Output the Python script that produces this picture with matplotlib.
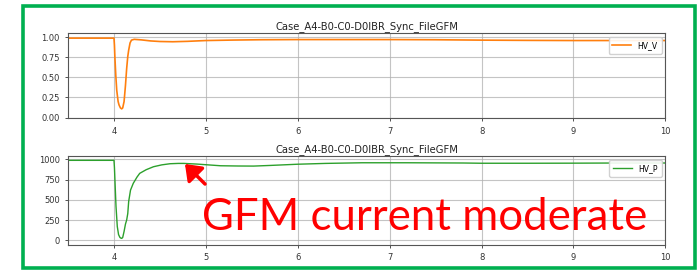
import matplotlib
matplotlib.use("Agg")
import matplotlib.pyplot as plt
from matplotlib.patches import Rectangle, FancyArrowPatch

title = "Case_A4-B0-C0-D0IBR_Sync_FileGFM"

t_v = [3.5, 4.0, 4.005, 4.01, 4.02, 4.03, 4.045, 4.055, 4.07, 4.084, 4.095,
       4.11, 4.125, 4.138, 4.15, 4.16, 4.175, 4.19, 4.22, 4.3, 4.4, 4.5,
       4.64, 4.8, 5.0, 5.3, 5.6, 6.0, 7.0, 7.5, 8.0, 8.5, 9.0, 9.5, 10.0]
hv_v = [0.99, 0.99, 0.9, 0.75, 0.52, 0.34, 0.2, 0.157, 0.12, 0.108, 0.12,
        0.2, 0.4, 0.61, 0.76, 0.84, 0.93, 0.965, 0.975, 0.968, 0.955, 0.948,
        0.945, 0.95, 0.96, 0.966, 0.97, 0.972, 0.972, 0.97, 0.965, 0.962,
        0.96, 0.96, 0.96]

t_p = [3.5, 4.0, 4.005, 4.012, 4.022, 4.036, 4.05, 4.065, 4.078, 4.085,
       4.095, 4.11, 4.125, 4.138, 4.15, 4.16, 4.18, 4.21, 4.25, 4.28, 4.35,
       4.43, 4.52, 4.61, 4.7, 4.76, 4.9, 5.16, 5.35, 5.52, 5.7, 6.0, 6.3,
       6.7, 7.2, 7.8, 8.0, 8.5, 9.0, 9.5, 10.0]
hv_p = [988, 988, 900, 700, 420, 170, 70, 35, 25, 24, 35, 110, 200, 250,
        330, 480, 620, 704, 780, 827, 872, 909, 932, 946, 950, 950, 942, 921,
        918, 917, 925, 940, 950, 958, 958, 955, 952, 952, 953, 955, 955]

fig = plt.figure(figsize=(6.97, 2.72), dpi=100)

tick_color = "#333333"
spine_color = "#555555"

def style(ax):
    ax.set_xlim(3.5, 10)
    ax.set_xticks([4, 5, 6, 7, 8, 9, 10])
    ax.grid(True, color="#b0b0b0", linewidth=0.8, alpha=0.75)
    ax.tick_params(labelsize=6, colors=tick_color, length=2.5, width=0.6)
    for s in ax.spines.values():
        s.set_color(spine_color)
        s.set_linewidth(0.8)
    ax.set_title(title, fontsize=7.2, color="#222222", pad=3)

ax1 = fig.add_axes([0.0976, 0.565, 0.857, 0.3125])
ax1.plot(t_v, hv_v, color="#ff7f0e", linewidth=1.2, label="HV_V")
ax1.set_ylim(-0.01, 1.05)
ax1.set_yticks([0.0, 0.25, 0.5, 0.75, 1.0])
ax1.set_yticklabels(["0.00", "0.25", "0.50", "0.75", "1.00"])
style(ax1)
ax1.legend(loc="upper right", fontsize=5.5, handlelength=2.5,
           borderpad=0.5, framealpha=0.9)

ax2 = fig.add_axes([0.0976, 0.0993, 0.857, 0.327])
ax2.plot(t_p, hv_p, color="#2ca02c", linewidth=1.0, label="HV_P")
ax2.set_ylim(-58, 1041)
ax2.set_yticks([0, 250, 500, 750, 1000])
style(ax2)
ax2.legend(loc="upper right", fontsize=5.5, handlelength=2.5,
           borderpad=0.5, framealpha=0.9)

# red annotation
fig.text(202 / 697, 1 - 230 / 272, "GFM current moderate", color="red",
         fontsize=31.5, family="Lato", ha="left", va="baseline")
fig.add_artist(FancyArrowPatch(
    (207 / 697, 1 - 186 / 272), (183 / 697, 1 - 162 / 272),
    transform=fig.transFigure, arrowstyle="-|>,head_length=6,head_width=4.5",
    color="red", linewidth=2.5, mutation_scale=1.5))

# green frame
fig.add_artist(Rectangle((23 / 697, 1 - 268 / 272), (695 - 23) / 697,
                         (268 - 6) / 272, transform=fig.transFigure,
                         fill=False, edgecolor="#00b050", linewidth=2.6))

fig.savefig("out.png", dpi=100)
